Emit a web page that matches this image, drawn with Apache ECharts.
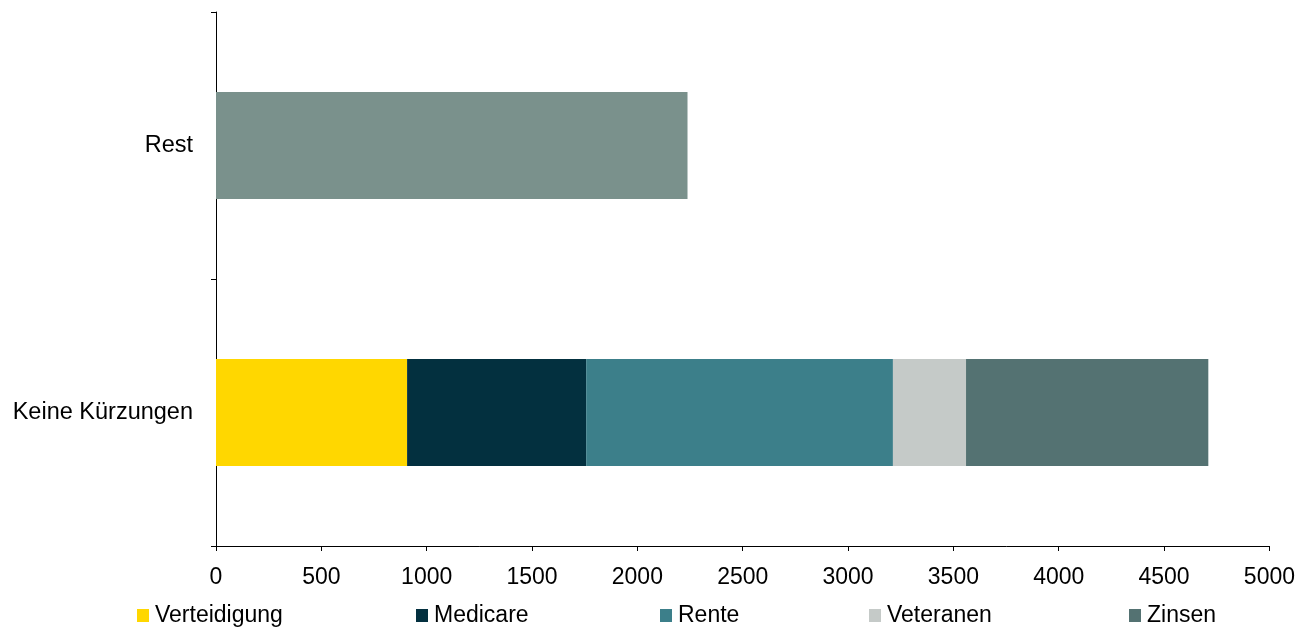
<!DOCTYPE html>
<html>
<head>
<meta charset="utf-8">
<script src="https://cdn.jsdelivr.net/npm/echarts@6/dist/echarts.min.js"></script>
<style>html,body{margin:0;padding:0;background:#fff}#c{width:1298px;height:627px}</style>
</head>
<body>
<div id="c"></div>
<script>
const categories = ['Keine Kürzungen', 'Rest'];
const seriesNames = ['Verteidigung', 'Medicare', 'Rente', 'Veteranen', 'Zinsen'];
const verteidigung = [907, '-'];
const medicare = [850, '-'];
const rente = [1456, '-'];
const veteranen = [347, '-'];
const zinsen = [1150, '-'];
const rest = ['-', 2238];
const xTicks = { min: 0, max: 5000, interval: 500 };

const colors = {
  Verteidigung: '#FFD700', Medicare: '#03303F', Rente: '#3C7F8A',
  Veteranen: '#C5CAC8', Zinsen: '#547272', Rest: '#7A918C'
};
const values = [verteidigung, medicare, rente, veteranen, zinsen];
const font = 'Liberation Sans, Arial, sans-serif';

const series = seriesNames.map((n, i) => ({
  name: n, type: 'bar', stack: 'total', data: values[i],
  barCategoryGap: '60%', itemStyle: { color: colors[n] }
}));
series.push({ name: 'Rest', type: 'bar', stack: 'total', data: rest,
  barCategoryGap: '60%', itemStyle: { color: colors.Rest } });

const legendLeft = [137, 416, 660, 869, 1129];
const legends = seriesNames.map((n, i) => ({
  data: [n], left: legendLeft[i], top: 604, icon: 'rect',
  itemWidth: 12, itemHeight: 13, itemGap: 0,
  textStyle: { fontFamily: font, fontSize: 23, color: '#000', padding: [0, 0, 0, 1] },
  padding: 0, selectedMode: false
}));

const chart = echarts.init(document.getElementById('c'), null, { renderer: 'canvas' });
chart.setOption({
  animation: false,
  backgroundColor: '#fff',
  grid: { left: 216, right: 28, top: 12, bottom: 81, containLabel: false },
  legend: legends,
  xAxis: {
    type: 'value', min: xTicks.min, max: xTicks.max, interval: xTicks.interval,
    axisLine: { show: true, lineStyle: { color: '#000', width: 1 } },
    axisTick: { show: true, length: 5, lineStyle: { color: '#000' } },
    splitLine: { show: false },
    axisLabel: { fontFamily: font, fontSize: 23, color: '#000', margin: 20,
      formatter: v => String(v) }
  },
  yAxis: {
    type: 'category', data: categories,
    axisLine: { show: true, lineStyle: { color: '#000', width: 1 } },
    axisTick: { show: true, length: 5, lineStyle: { color: '#000' } },
    axisLabel: { fontFamily: font, fontSize: 23.5, color: '#000', margin: 23 }
  },
  series: series
});
</script>
</body>
</html>
